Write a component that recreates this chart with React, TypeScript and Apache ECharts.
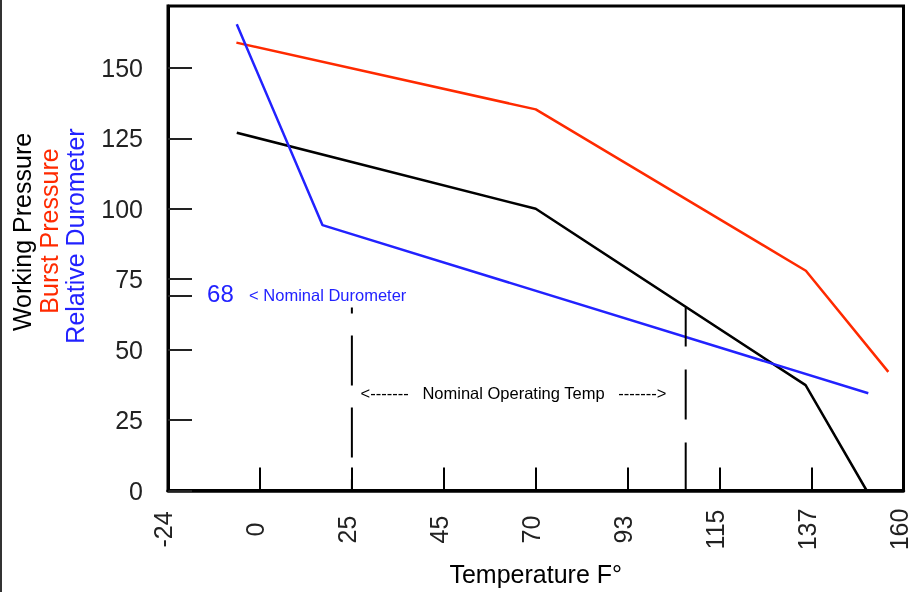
import React, { useEffect, useRef } from "react";
import * as echarts from "echarts";

// x positions are in tick-slot units: 0 = "-24", 1 = "0", ... 8 = "160"
const tickLabels = ["-24", "0", "25", "45", "70", "93", "115", "137", "160"];
const yLabelValues = [0, 25, 50, 75, 100, 125, 150];
const yTickValues = [0, 25, 50, 69, 75, 100, 125, 150];

const workingX = [0.748, 4.0, 6.935, 7.599];
const workingY = [127, 100, 37.4, 0];
const burstX = [0.744, 4.0, 6.938, 7.835];
const burstY = [159, 135.3, 78, 42.1];
const durometerX = [0.748, 1.681, 7.617];
const durometerY = [165.5, 94.2, 34.5];

const operatingLowX = 2;
const operatingHighX = 5.631;
const operatingMarkTop = 65;
const nominalDurometerText = "68";

const FONT = "'Liberation Sans', Arial, Helvetica, sans-serif";

const pairs = (xs: number[], ys: number[]) => xs.map((x, i) => [x, ys[i]]);

if (typeof document !== "undefined") {
  document.body.style.margin = "0";
  document.body.style.overflow = "hidden";
}

export default function App() {
  const ref = useRef<HTMLDivElement>(null);
  useEffect(() => {
    document.body.style.margin = "0";
    const chart = echarts.init(ref.current!, null, { renderer: "svg", width: 909, height: 592 });
    const option: any = {
      animation: false,
      textStyle: { fontFamily: FONT },
      grid: {
        left: 168,
        right: 5.5,
        top: 6,
        bottom: 101.5,
        containLabel: false,
        outerBoundsMode: "none",
        show: true,
        borderColor: "#000",
        borderWidth: 3,
        backgroundColor: "transparent",
      },
      xAxis: {
        type: "value",
        min: 0,
        max: 8,
        interval: 1,
        name: "Temperature F°",
        nameLocation: "middle",
        nameGap: 83,
        nameTextStyle: { fontSize: 25, color: "#000", fontFamily: FONT, verticalAlign: "middle" },
        axisLine: { show: true, lineStyle: { color: "#000", width: 3.5 } },
        axisTick: { show: true, inside: true, length: 23, lineStyle: { color: "#000", width: 2 } },
        splitLine: { show: false },
        axisLabel: {
          rotate: 90,
          margin: 39,
          align: "center",
          verticalAlign: "bottom",
          lineHeight: 10,
          fontSize: 25,
          color: "#222",
          fontFamily: FONT,
          formatter: (v: number) => tickLabels[Math.round(v)] ?? "",
        },
      },
      yAxis: {
        type: "value",
        min: 0,
        max: 172,
        axisLine: { show: true, lineStyle: { color: "#000", width: 3 } },
        axisTick: {
          show: true,
          inside: true,
          length: 24,
          customValues: yTickValues,
          lineStyle: { color: "#222", width: 2 },
        },
        splitLine: { show: false },
        axisLabel: {
          customValues: yLabelValues,
          margin: 25,
          fontSize: 25,
          color: "#222",
          fontFamily: FONT,
        },
      },
      series: [
        {
          type: "line",
          name: "Working Pressure",
          data: pairs(workingX, workingY),
          symbol: "none",
          silent: true,
          lineStyle: { color: "#000", width: 2.5 },
        },
        {
          type: "line",
          name: "Burst Pressure",
          data: pairs(burstX, burstY),
          symbol: "none",
          silent: true,
          lineStyle: { color: "#ff2a00", width: 2.5 },
        },
        {
          type: "line",
          name: "Relative Durometer",
          data: pairs(durometerX, durometerY),
          symbol: "none",
          silent: true,
          lineStyle: { color: "#2222ff", width: 2.5 },
        },
        {
          type: "line",
          data: [[operatingLowX, operatingMarkTop], [operatingLowX, 0]],
          symbol: "none",
          silent: true,
          lineStyle: { color: "#000", width: 2, type: [50, 22], dashOffset: 44 },
        },
        {
          type: "line",
          data: [[operatingHighX, operatingMarkTop], [operatingHighX, 0]],
          symbol: "none",
          silent: true,
          lineStyle: { color: "#000", width: 2, type: [50, 23], dashOffset: 11 },
        },
      ],
    };
    chart.setOption(option);

    const px = (x: number, y: number) => chart.convertToPixel({ gridIndex: 0 } as any, [x, y]) as number[];
    const p68 = px(0.425, 69.8);
    const pNom = px(0.882, 69.4);
    const pOp = px(3.758, 34.6);

    chart.setOption({
      graphic: [
        {
          type: "line",
          silent: true,
          shape: { x1: 1, y1: 0, x2: 1, y2: 592 },
          style: { stroke: "#333", lineWidth: 2 },
        },
        {
          type: "text",
          silent: true,
          x: 22,
          y: 232,
          rotation: Math.PI / 2,
          style: { text: "Working Pressure", fill: "#000", font: `25px ${FONT}`, align: "center", verticalAlign: "middle" },
        },
        {
          type: "text",
          silent: true,
          x: 49,
          y: 231,
          rotation: Math.PI / 2,
          style: { text: "Burst Pressure", fill: "#ff2a00", font: `25px ${FONT}`, align: "center", verticalAlign: "middle" },
        },
        {
          type: "text",
          silent: true,
          x: 75,
          y: 236,
          rotation: Math.PI / 2,
          style: { text: "Relative Durometer", fill: "#2222ff", font: `25px ${FONT}`, align: "center", verticalAlign: "middle" },
        },
        {
          type: "text",
          silent: true,
          x: p68[0],
          y: p68[1],
          style: { text: nominalDurometerText, fill: "#2222ff", font: `24px ${FONT}`, align: "left", verticalAlign: "middle" },
        },
        {
          type: "text",
          silent: true,
          x: pNom[0],
          y: pNom[1],
          style: { text: "< Nominal Durometer", fill: "#2222ff", font: `16.5px ${FONT}`, align: "left", verticalAlign: "middle" },
        },
        {
          type: "text",
          silent: true,
          x: pOp[0],
          y: pOp[1],
          style: {
            text: "<-------   Nominal Operating Temp   ------->",
            fill: "#000",
            font: `16.5px ${FONT}`,
            align: "center",
            verticalAlign: "middle",
          },
        },
      ],
    });

    return () => chart.dispose();
  }, []);
  return (
    <div
      ref={ref}
      style={{ position: "fixed", left: 0, top: 0, width: 909, height: 592 }}
    />
  );
}
